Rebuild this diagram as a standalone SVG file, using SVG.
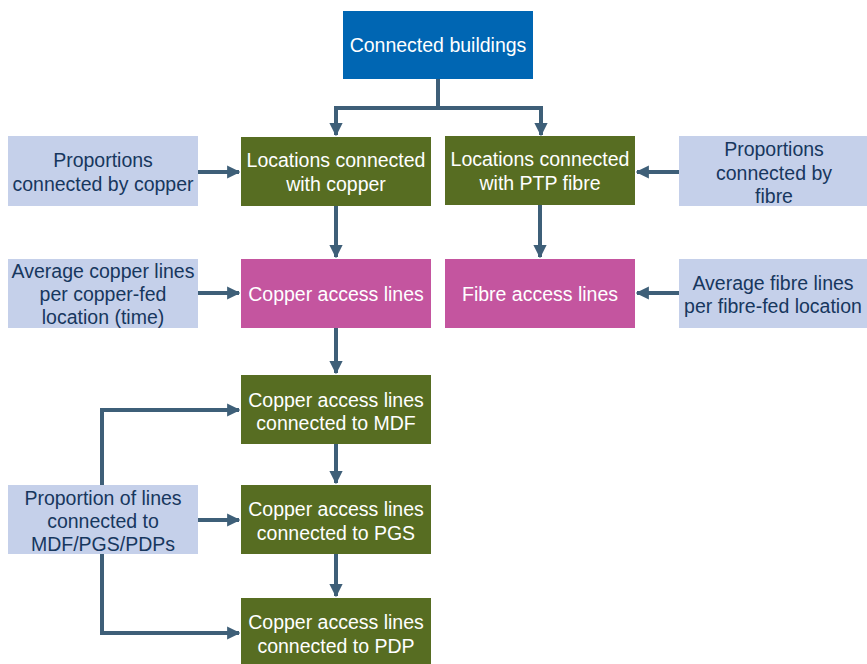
<svg xmlns="http://www.w3.org/2000/svg" width="867" height="664" viewBox="0 0 867 664">
<defs>
<style>
text{font-family:"Liberation Sans",Arial,sans-serif;font-size:19.5px;text-anchor:middle}
.w{fill:#ffffff}
.d{fill:#17375e}
.blue{fill:#0066b3}
.green{fill:#576d22}
.pink{fill:#c4559f}
.light{fill:#c5d0ea}
.c{fill:none;stroke:#3e5f78;stroke-width:4;marker-end:url(#ah)}
</style>
<marker id="ah" viewBox="0 0 10 10" refX="9" refY="5" markerWidth="3.3" markerHeight="3.3" orient="auto" markerUnits="strokeWidth">
<path d="M0,0 L10,5 L0,10 z" fill="#3e5f78"/>
</marker>
</defs>
<rect width="867" height="664" fill="#ffffff"/>
<g id="connectors">
<path class="c" d="M438,79 V108 H336 V135"/>
<path class="c" d="M438,108 H541 V135"/>
<path class="c" d="M198,172 H239"/>
<path class="c" d="M679,172 H637"/>
<path class="c" d="M336,206 V257"/>
<path class="c" d="M540,205 V257"/>
<path class="c" d="M198,293 H239"/>
<path class="c" d="M679,293 H637"/>
<path class="c" d="M336,328 V373"/>
<path class="c" d="M336,444 V483"/>
<path class="c" d="M336,554 V596"/>
<path class="c" d="M102,485 V410 H239"/>
<path class="c" d="M198,520 H239"/>
<path class="c" d="M102,554 V633 H239"/>
</g>
<g id="connected-buildings"><rect class="blue" x="343" y="11" width="190" height="68"/><text class="w" x="438" y="52">Connected buildings</text></g>
<g id="loc-copper"><rect class="green" x="241" y="137" width="190" height="69"/><text class="w" x="336" y="167">Locations connected</text><text class="w" x="336" y="191">with copper</text></g>
<g id="loc-fibre"><rect class="green" x="445" y="136" width="190" height="69"/><text class="w" x="540" y="166">Locations connected</text><text class="w" x="540" y="190">with PTP fibre</text></g>
<g id="prop-copper"><rect class="light" x="8" y="136" width="190" height="70"/><text class="d" x="103" y="167">Proportions</text><text class="d" x="103" y="191">connected by copper</text></g>
<g id="prop-fibre"><rect class="light" x="679" y="136" width="188" height="70"/><text class="d" x="774" y="156">Proportions</text><text class="d" x="774" y="180">connected by</text><text class="d" x="774" y="203">fibre</text></g>
<g id="avg-copper"><rect class="light" x="8" y="259" width="190" height="69"/><text class="d" x="103" y="278">Average copper lines</text><text class="d" x="103" y="301">per copper-fed</text><text class="d" x="103" y="324">location (time)</text></g>
<g id="copper-access"><rect class="pink" x="241" y="259" width="190" height="69"/><text class="w" x="336" y="301">Copper access lines</text></g>
<g id="fibre-access"><rect class="pink" x="445" y="259" width="190" height="69"/><text class="w" x="540" y="301">Fibre access lines</text></g>
<g id="avg-fibre"><rect class="light" x="679" y="259" width="188" height="69"/><text class="d" x="773" y="290">Average fibre lines</text><text class="d" x="773" y="313">per fibre-fed location</text></g>
<g id="mdf"><rect class="green" x="241" y="375" width="190" height="69"/><text class="w" x="336" y="407">Copper access lines</text><text class="w" x="336" y="430">connected to MDF</text></g>
<g id="prop-lines"><rect class="light" x="8" y="485" width="190" height="69"/><text class="d" x="103" y="505">Proportion of lines</text><text class="d" x="103" y="528">connected to</text><text class="d" x="103" y="551">MDF/PGS/PDPs</text></g>
<g id="pgs"><rect class="green" x="241" y="485" width="190" height="69"/><text class="w" x="336" y="516">Copper access lines</text><text class="w" x="336" y="540">connected to PGS</text></g>
<g id="pdp"><rect class="green" x="241" y="598" width="190" height="66"/><text class="w" x="336" y="629">Copper access lines</text><text class="w" x="336" y="653">connected to PDP</text></g>
</svg>
